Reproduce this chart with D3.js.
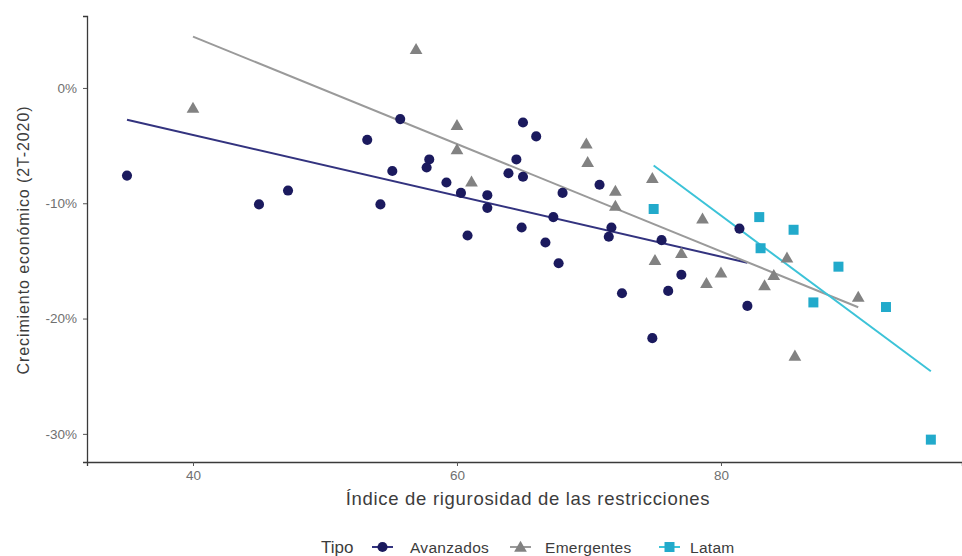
<!DOCTYPE html>
<html>
<head>
<meta charset="utf-8">
<script src="https://cdn.jsdelivr.net/npm/d3@7"></script>
<style>
  body { margin: 0; background: #fff; }
  svg { display: block; font-family: "Liberation Sans", Arial, sans-serif; }
</style>
</head>
<body>
<svg id="chart" width="962" height="556"></svg>
<script>
// data: stringency index vs Q2-2020 growth (%)
var avanzadosX = [35.0, 45.0, 47.2, 53.2, 54.2, 55.1, 55.7, 57.9, 57.7, 59.2, 60.3, 60.8,
    62.3, 62.3, 63.9, 64.5, 65.0, 65.0, 64.9, 66.0, 66.7, 67.3, 67.7, 68.0,
    70.8, 71.7, 71.5, 72.5, 74.8, 75.5, 76.0, 77.0, 81.4, 82.0];
var avanzadosY = [-7.6, -10.1, -8.9, -4.5, -10.1, -7.2, -2.7, -6.2, -6.9, -8.2, -9.1, -12.8,
    -9.3, -10.4, -7.4, -6.2, -3.0, -7.7, -12.1, -4.2, -13.4, -11.2, -15.2, -9.1,
    -8.4, -12.1, -12.9, -17.8, -21.7, -13.2, -17.6, -16.2, -12.2, -18.9];

var emergentesX = [40.0, 56.9, 60.0, 60.0, 61.1, 69.8, 69.9, 72.0, 72.0, 74.8,
    78.6, 75.0, 77.0, 80.0, 78.9, 84.0, 83.3, 85.0, 85.6, 90.4];
var emergentesY = [-1.7, 3.4, -3.2, -5.3, -8.1, -4.8, -6.4, -8.9, -10.2, -7.8,
    -11.3, -14.9, -14.3, -16.0, -16.9, -16.2, -17.1, -14.7, -23.2, -18.1];

var latamX = [74.9, 82.9, 83.0, 85.5, 88.9, 87.0, 92.5, 95.9];
var latamY = [-10.5, -11.2, -13.9, -12.3, -15.5, -18.6, -19.0, -30.5];

var tipos = ['Avanzados', 'Emergentes', 'Latam'];
var yTicks = [0, -10, -20, -30];
var xTicks = [40, 60, 80];

var colors = { Avanzados: '#1b1a5e', Emergentes: '#828282', Latam: '#22aacb' };
var lineColors = { Avanzados: '#33337f', Emergentes: '#9a9a9a', Latam: '#3cc3d8' };
var shapes = { Avanzados: d3.symbolCircle, Emergentes: d3.symbolTriangle, Latam: d3.symbolSquare };
var sizes = { Avanzados: 80, Emergentes: 70, Latam: 100 };

var series = [
    { tipo: 'Avanzados', xs: avanzadosX, ys: avanzadosY },
    { tipo: 'Emergentes', xs: emergentesX, ys: emergentesY },
    { tipo: 'Latam', xs: latamX, ys: latamY }
];

// ordinary least squares, like geom_smooth(method = "lm", se = FALSE)
function linFit(xs, ys) {
    var n = xs.length,
        mx = d3.mean(xs),
        my = d3.mean(ys),
        sxy = 0, sxx = 0;
    for(var i = 0; i < n; i++) {
        sxy += (xs[i] - mx) * (ys[i] - my);
        sxx += (xs[i] - mx) * (xs[i] - mx);
    }
    var b = sxy / sxx;
    return function(x) { return my + b * (x - mx); };
}

var svg = d3.select('#chart');

var x = d3.scaleLinear().domain([31.97, 98.26]).range([87, 962]);
var y = d3.scaleLinear().domain([6.24, -32.44]).range([16, 462]);

// axes (theme_classic look)
var gx = svg.append('g')
    .attr('transform', 'translate(0,' + y.range()[1] + ')')
    .call(d3.axisBottom(x).tickValues(xTicks).tickSize(4).tickPadding(4));
var gy = svg.append('g')
    .attr('transform', 'translate(' + x.range()[0] + ',0)')
    .call(d3.axisLeft(y).tickValues(yTicks).tickSize(4).tickPadding(6)
        .tickFormat(function(d) { return d + '%'; }));

[gx, gy].forEach(function(g) {
    g.select('.domain').attr('stroke', '#3a3a3a').attr('stroke-width', 1.3);
    g.selectAll('.tick line').attr('stroke', '#555');
    g.selectAll('.tick text').attr('fill', '#707070').style('font-size', '13.5px');
});

// regression lines first, points on top
var lineLayer = svg.append('g');
var pointLayer = svg.append('g');

series.forEach(function(s) {
    var f = linFit(s.xs, s.ys),
        ext = d3.extent(s.xs);
    lineLayer.append('line')
        .attr('x1', x(ext[0])).attr('y1', y(f(ext[0])))
        .attr('x2', x(ext[1])).attr('y2', y(f(ext[1])))
        .attr('stroke', lineColors[s.tipo])
        .attr('stroke-width', 2);
});

series.forEach(function(s) {
    var sym = d3.symbol().type(shapes[s.tipo]).size(sizes[s.tipo]);
    pointLayer.selectAll('path.' + s.tipo)
        .data(d3.range(s.xs.length))
        .enter().append('path')
        .attr('class', s.tipo)
        .attr('d', sym)
        .attr('transform', function(i) {
            var dy = s.tipo === 'Emergentes' ? 1.5 : 0;
            return 'translate(' + x(s.xs[i]) + ',' + (y(s.ys[i]) + dy) + ')';
        })
        .attr('fill', colors[s.tipo]);
});

// axis titles
svg.append('text')
    .attr('x', 528).attr('y', 505)
    .attr('text-anchor', 'middle')
    .attr('fill', '#3c3c3c')
    .style('font-size', '18.5px')
    .style('letter-spacing', '0.7px')
    .text('Índice de rigurosidad de las restricciones');

svg.append('text')
    .attr('transform', 'translate(29,240) rotate(-90)')
    .attr('text-anchor', 'middle')
    .attr('fill', '#3c3c3c')
    .style('font-size', '16px')
    .style('letter-spacing', '0.9px')
    .text('Crecimiento económico (2T-2020)');

// legend at the bottom
var legend = svg.append('g').attr('transform', 'translate(0,547)');
legend.append('text')
    .attr('x', 321).attr('y', 6)
    .attr('fill', '#3c3c3c')
    .style('font-size', '17px')
    .text('Tipo');

var keyX = [372, 510, 659];
var labelX = [410, 545, 690];
tipos.forEach(function(t, i) {
    var k = legend.append('g').attr('transform', 'translate(' + keyX[i] + ',0)');
    k.append('line')
        .attr('x1', 0).attr('x2', 21)
        .attr('stroke', lineColors[t]).attr('stroke-width', 2);
    k.append('path')
        .attr('d', d3.symbol().type(shapes[t]).size(sizes[t]))
        .attr('transform', 'translate(10.5,' + (t === 'Emergentes' ? 1 : 0) + ')')
        .attr('fill', colors[t]);
    legend.append('text')
        .attr('x', labelX[i]).attr('y', 6)
        .attr('fill', '#3c3c3c')
        .style('font-size', '15.5px')
        .style('letter-spacing', '0.3px')
        .text(t);
});
</script>
</body>
</html>
